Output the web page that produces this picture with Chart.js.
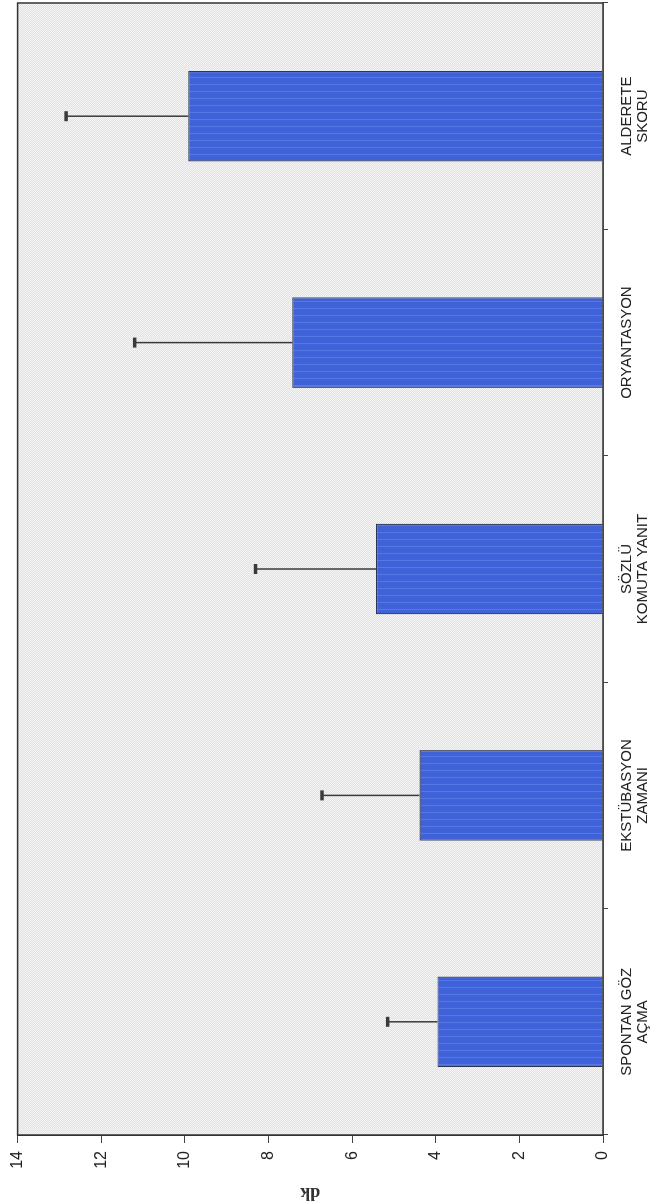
<!DOCTYPE html>
<html>
<head>
<meta charset="utf-8">
<script src="https://cdn.jsdelivr.net/npm/chart.js@4.4.1/dist/chart.umd.min.js"></script>
<style>
  html, body { margin: 0; padding: 0; background: #ffffff; }
  #page { position: relative; width: 661px; height: 1204px; overflow: hidden; background: #ffffff; }
  #rot { position: absolute; left: 0; top: 0; width: 1204px; height: 661px;
         transform-origin: 0 0; transform: translate(0px, 1204px) rotate(-90deg); }
</style>
</head>
<body>
<div id="page"><div id="rot"><canvas id="c" width="1204" height="661"></canvas></div></div>
<script>
// ---- data ----
const categories = [
  ["SPONTAN GÖZ", "AÇMA"],
  ["EKSTÜBASYON", "ZAMANI"],
  ["SÖZLÜ", "KOMUTA YANIT"],
  ["ORYANTASYON"],
  ["ALDERETE", "SKORU"]
];
const meanValues = [3.96, 4.39, 5.43, 7.43, 9.92];
const sdValues = [1.19, 2.33, 2.88, 3.77, 2.92];
const valueTicks = [0, 2, 4, 6, 8, 10, 12, 14];
const axisTitle = "dk";

// ---- patterns ----
function makeBgPattern(ctx) {
  const p = document.createElement('canvas');
  p.width = 2; p.height = 2;
  const g = p.getContext('2d');
  g.fillStyle = '#f6f6f6'; g.fillRect(0, 0, 2, 2);
  g.fillStyle = '#e0e0e0'; g.fillRect(0, 0, 1, 1); g.fillRect(1, 1, 1, 1);
  return ctx.createPattern(p, 'repeat');
}
function makeBarPattern(ctx) {
  const p = document.createElement('canvas');
  p.width = 7; p.height = 1;
  const g = p.getContext('2d');
  g.fillStyle = '#3f62d9'; g.fillRect(0, 0, 7, 1);
  g.fillStyle = '#5479e4'; g.fillRect(6, 0, 1, 1);
  return ctx.createPattern(p, 'repeat');
}

const canvas = document.getElementById('c');
const ctx0 = canvas.getContext('2d');
const bgPattern = makeBgPattern(ctx0);
const barPattern = makeBarPattern(ctx0);

const plotBackground = {
  id: 'plotBackground',
  beforeDatasetsDraw(chart) {
    const {ctx, chartArea: a} = chart;
    ctx.save();
    ctx.fillStyle = bgPattern;
    ctx.fillRect(a.left, a.top, a.right - a.left, a.bottom - a.top);
    ctx.restore();
  }
};

const errorBars = {
  id: 'errorBars',
  afterDatasetsDraw(chart) {
    const {ctx} = chart;
    const yScale = chart.scales.y;
    const meta = chart.getDatasetMeta(0);
    ctx.save();
    meta.data.forEach((bar, i) => {
      const x = bar.x;
      const yBase = yScale.getPixelForValue(meanValues[i]);
      const yTop = yScale.getPixelForValue(meanValues[i] + sdValues[i]);
      ctx.strokeStyle = '#3a3a3a';
      ctx.lineWidth = 1.5;
      ctx.beginPath();
      ctx.moveTo(x, yBase);
      ctx.lineTo(x, yTop);
      ctx.stroke();
      ctx.lineWidth = 3.5;
      ctx.beginPath();
      ctx.moveTo(x - 5, yTop);
      ctx.lineTo(x + 5, yTop);
      ctx.stroke();
    });
    // frame around the plot
    const a = chart.chartArea;
    ctx.strokeStyle = '#333333';
    ctx.lineWidth = 1.5;
    ctx.strokeRect(a.left, a.top, a.right - a.left, a.bottom - a.top);
    ctx.restore();
  }
};

new Chart(canvas, {
  type: 'bar',
  data: {
    labels: categories,
    datasets: [{
      data: meanValues,
      backgroundColor: barPattern,
      borderColor: '#2e3550',
      borderWidth: 1.2,
      categoryPercentage: 1.0,
      barPercentage: 0.4
    }]
  },
  options: {
    responsive: false,
    animation: false,
    devicePixelRatio: 1,
    layout: { padding: { top: 13, right: 3, left: 0, bottom: 0 } },
    plugins: { legend: { display: false }, tooltip: { enabled: false } },
    scales: {
      x: {
        grid: { offset: true, drawOnChartArea: false, drawTicks: true, tickLength: 5, color: '#444444' },
        border: { display: true, color: '#333333', width: 1.5 },
        ticks: {
          color: '#222222', padding: 11, maxRotation: 0, autoSkip: false,
          font: { family: '"Liberation Sans", Arial, sans-serif', size: 15, lineHeight: 1.08 }
        },
        afterFit(scale) { scale.height = 58; }
      },
      y: {
        min: 0, max: 14,
        afterBuildTicks(scale) { scale.ticks = valueTicks.map(v => ({ value: v })); },
        grid: { drawOnChartArea: false, drawTicks: true, tickLength: 8, color: '#444444' },
        border: { display: true, color: '#333333', width: 1.5 },
        ticks: {
          color: '#222222', padding: 8,
          font: { family: '"Liberation Sans", Arial, sans-serif', size: 16 }
        },
        title: {
          display: true, text: axisTitle, color: '#333333',
          padding: { top: 1, bottom: 0 },
          font: { family: '"Liberation Serif", "Times New Roman", serif', size: 18, weight: 'bold' }
        },
        afterFit(scale) { scale.width = 69; }
      }
    }
  },
  plugins: [plotBackground, errorBars]
});
</script>
</body>
</html>
